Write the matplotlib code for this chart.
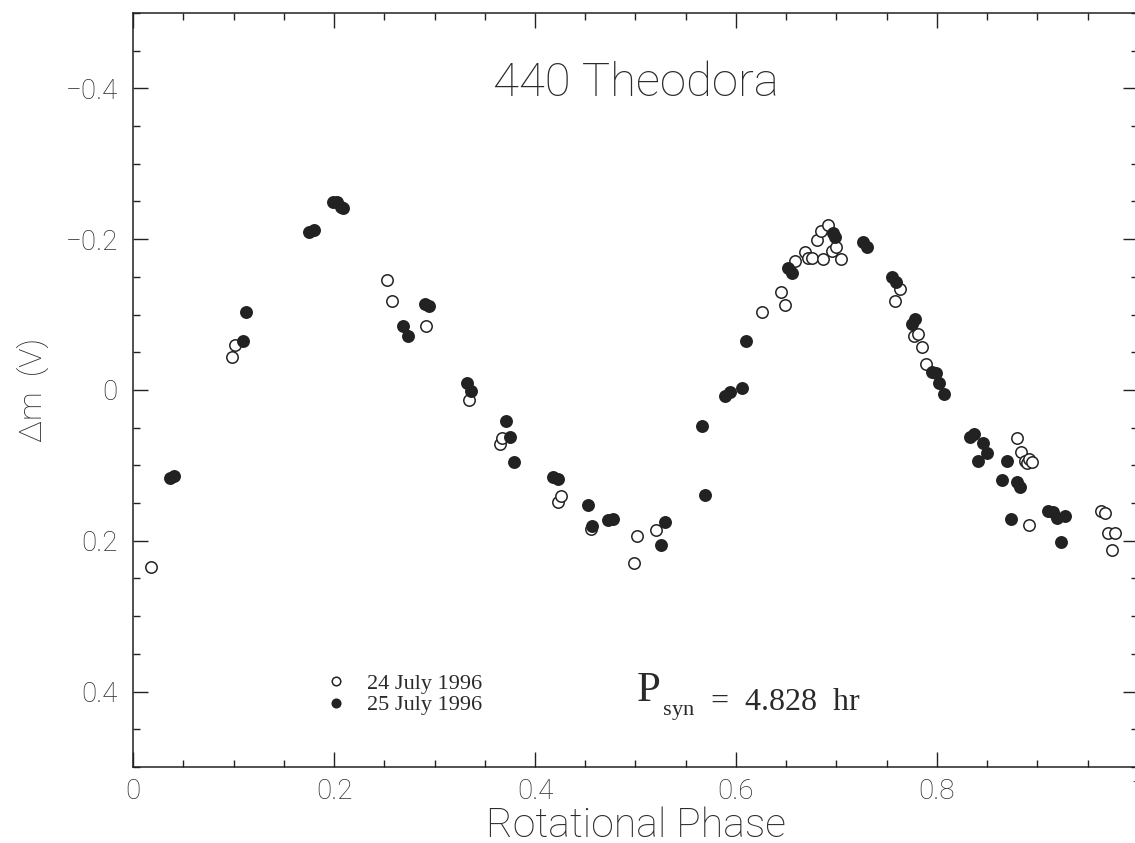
import numpy as np
import matplotlib
matplotlib.use("Agg")
import matplotlib.pyplot as plt
from matplotlib.ticker import MultipleLocator, FuncFormatter

# 24 July 1996 (open circles)
phase24 = [0.018, 0.098, 0.101, 0.253, 0.258, 0.292, 0.334, 0.365, 0.367,
           0.423, 0.426, 0.456, 0.499, 0.502, 0.520,
           0.626, 0.645, 0.649, 0.659, 0.669, 0.672, 0.676, 0.681, 0.685,
           0.687, 0.692, 0.696, 0.700, 0.705,
           0.758, 0.763, 0.777, 0.781, 0.785, 0.789,
           0.880, 0.884, 0.888, 0.890, 0.892, 0.895, 0.892,
           0.963, 0.967, 0.970, 0.977, 0.974]
dm24 = [0.235, -0.044, -0.060, -0.146, -0.118, -0.085, 0.013, 0.072, 0.064,
        0.149, 0.141, 0.184, 0.229, 0.194, 0.186,
        -0.103, -0.130, -0.113, -0.171, -0.183, -0.175, -0.175, -0.199, -0.211,
        -0.174, -0.219, -0.184, -0.190, -0.174,
        -0.118, -0.134, -0.072, -0.074, -0.057, -0.034,
        0.064, 0.082, 0.094, 0.097, 0.091, 0.095, 0.179,
        0.160, 0.163, 0.190, 0.190, 0.212]

# 25 July 1996 (filled circles)
phase25 = [0.037, 0.041, 0.109, 0.112, 0.175, 0.180, 0.199, 0.203, 0.207, 0.209,
           0.269, 0.274, 0.291, 0.295, 0.332, 0.336, 0.371, 0.375, 0.379,
           0.418, 0.423, 0.453, 0.457, 0.473, 0.478, 0.525, 0.529,
           0.566, 0.569, 0.589, 0.594, 0.606, 0.610, 0.652, 0.656,
           0.697, 0.699, 0.726, 0.730, 0.755, 0.759, 0.775, 0.778,
           0.795, 0.799, 0.802, 0.807, 0.833, 0.837, 0.846, 0.850, 0.841,
           0.870, 0.865, 0.880, 0.883, 0.874,
           0.910, 0.915, 0.919, 0.927, 0.923]
dm25 = [0.117, 0.114, -0.065, -0.103, -0.210, -0.212, -0.249, -0.249, -0.243, -0.241,
        -0.085, -0.072, -0.114, -0.111, -0.009, 0.001, 0.041, 0.062, 0.095,
        0.115, 0.118, 0.153, 0.180, 0.172, 0.171, 0.206, 0.175,
        0.048, 0.139, 0.008, 0.003, -0.003, -0.065, -0.162, -0.155,
        -0.208, -0.203, -0.196, -0.190, -0.150, -0.143, -0.088, -0.094,
        -0.024, -0.023, -0.009, 0.005, 0.062, 0.058, 0.070, 0.084, 0.094,
        0.094, 0.119, 0.122, 0.129, 0.171,
        0.160, 0.162, 0.170, 0.167, 0.202]

ink = "#222222"
txt = "#2a2a2a"
sans = ["Roboto", "Lato", "DejaVu Sans"]
serif = ["Liberation Serif", "DejaVu Serif"]
thin = "light"

plt.rcParams["mathtext.fontset"] = "custom"
plt.rcParams["mathtext.rm"] = "Liberation Serif"

fig = plt.figure(figsize=(11.35, 8.43), dpi=100)
ax = fig.add_axes([0.1172, 0.0902, 0.8854, 0.8944])

ax.plot(phase24, dm24, "o", ms=8.2, mfc="white", mec=ink, mew=1.1,
        label="24 July 1996")
ax.plot(phase25, dm25, "o", ms=8.2, mfc=ink, mec=ink, mew=1.1,
        label="25 July 1996")

ax.set_xlim(0, 1)
ax.set_ylim(0.5, -0.5)
ax.xaxis.set_major_locator(MultipleLocator(0.2))
ax.xaxis.set_minor_locator(MultipleLocator(0.05))
ax.yaxis.set_major_locator(MultipleLocator(0.2))
ax.yaxis.set_minor_locator(MultipleLocator(0.05))

def fmt(v, pos):
    if abs(v) < 1e-9:
        return "0"
    if abs(v - 1) < 1e-9:
        return "1"
    return ("%.1f" % v).replace("-", "\u2212")

ax.xaxis.set_major_formatter(FuncFormatter(fmt))
ax.yaxis.set_major_formatter(FuncFormatter(fmt))

ax.tick_params(which="both", direction="in", top=True, right=True,
               colors=ink, labelcolor=txt, width=1.0)
ax.tick_params(which="major", length=11, labelsize=20)
ax.tick_params(which="minor", length=5)
ax.tick_params(axis="y", which="major", pad=11)
ax.tick_params(axis="x", which="major", pad=8)
for lab in ax.get_xticklabels() + ax.get_yticklabels():
    lab.set_family(sans)
    lab.set_fontweight(thin)
for s in ax.spines.values():
    s.set_color(ink)
    s.set_linewidth(1.1)

ax.set_xlabel("Rotational Phase", fontsize=29.5, family=sans, fontweight=thin,
              color=txt, labelpad=1)
ax.set_ylabel("\u0394m  (V)", fontsize=23, family=sans, fontweight=thin,
              color=txt, labelpad=12)

ax.text(0.5, 0.907, "440 Theodora", transform=ax.transAxes, ha="center",
        va="center", fontsize=34, family=sans, fontweight=thin, color=txt)

ptxt = ax.text(0.501, 0.087, "P", transform=ax.transAxes, ha="left",
               va="baseline", fontsize=31, family=serif, color=txt)
ax.annotate("$_{\\mathrm{syn}}$  =  4.828  hr", xy=(1, 0), xycoords=ptxt,
            xytext=(1, 0), textcoords="offset points", ha="left", va="baseline",
            fontsize=23, family=serif, color=txt)

leg = ax.legend(loc="upper left", bbox_to_anchor=(0.180, 0.139), frameon=False,
                borderpad=0, handlelength=1.0, handletextpad=0.9,
                labelspacing=0.05, markerscale=0.75,
                prop={"family": serif, "size": 16})
for t in leg.get_texts():
    t.set_color(txt)

fig.savefig("out.png", dpi=100)
